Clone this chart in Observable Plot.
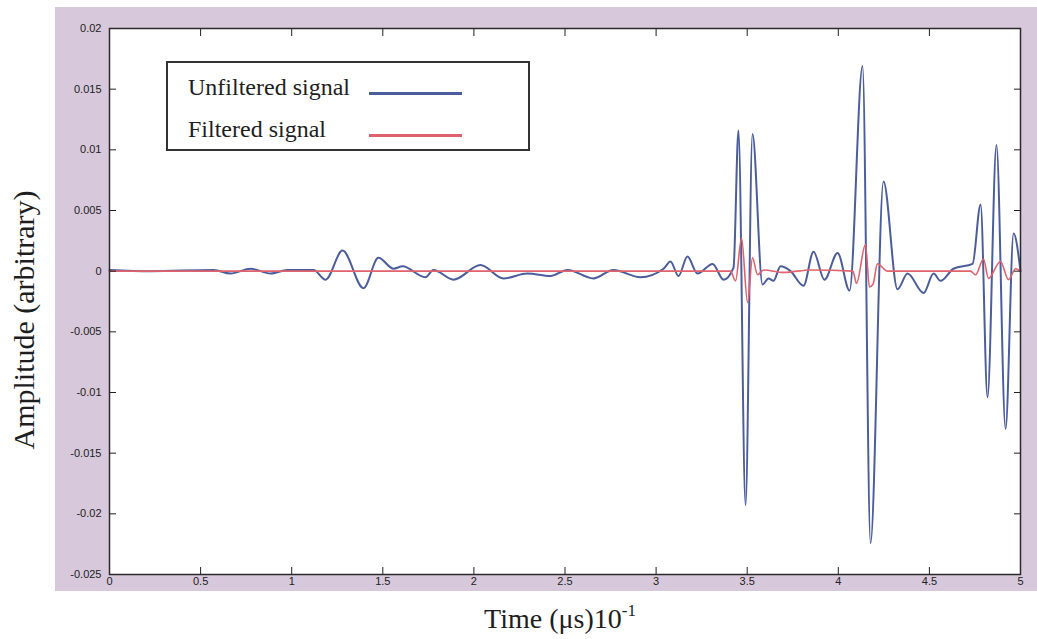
<!DOCTYPE html>
<html>
<head>
<meta charset="utf-8">
<script src="https://cdn.jsdelivr.net/npm/d3@7"></script>
<script src="https://cdn.jsdelivr.net/npm/@observablehq/plot@0.6"></script>
<style>
  body { margin: 0; background: #ffffff; }
  #wrap { position: relative; width: 1037px; height: 639px; overflow: hidden; }
  #bg { position: absolute; left: 55px; top: 7px; width: 982px; height: 584px; background: #d7c8db; }
  #chart { position: absolute; left: 0; top: 0; }
  .serif { font-family: "Liberation Serif", "Times New Roman", serif; color: #1e1e1e; white-space: nowrap; line-height: 1; }
  #ytitle { position: absolute; left: 24px; top: 320px; transform: translate(-50%, -50%) rotate(-90deg); font-size: 30px; }
  #xtitle { position: absolute; left: 560px; top: 604px; transform: translateX(-50%); font-size: 28px; }
  #xtitle sup { font-size: 17px; position: relative; top: -2px; }
  #legend { position: absolute; left: 166px; top: 61px; width: 360px; height: 86px; border: 2px solid #333; background: #fff; }
  .ltext { position: absolute; font-size: 24px; }
  .lline { position: absolute; height: 3px; }
</style>
</head>
<body>
<div id="wrap">
  <div id="bg"></div>
  <div id="chart"></div>
  <div id="ytitle" class="serif">Amplitude (arbitrary)</div>
  <div id="xtitle" class="serif">Time (μs)10<sup>-1</sup></div>
  <div id="legend"></div>
</div>
<script>
// Tick values and labels
const xTicks = [0, 0.5, 1, 1.5, 2, 2.5, 3, 3.5, 4, 4.5, 5];
const xTickLabels = ["0", "0.5", "1", "1.5", "2", "2.5", "3", "3.5", "4", "4.5", "5"];
const yTicks = [-0.025, -0.02, -0.015, -0.01, -0.005, 0, 0.005, 0.01, 0.015, 0.02];
const yTickLabels = ["-0.025", "-0.02", "-0.015", "-0.01", "-0.005", "0", "0.005", "0.01", "0.015", "0.02"];

// Series names
const seriesNames = ["Unfiltered signal", "Filtered signal"];
const seriesColors = ["#4c5d9c", "#e0626c"];

// Unfiltered signal (time in µs·10^-1, amplitude arbitrary)
const unfilteredT = [0.000, 0.225, 0.571, 0.664, 0.774, 0.884, 0.977, 1.120, 1.186, 1.279,
  1.394, 1.476, 1.559, 1.608, 1.734, 1.778, 1.888, 2.036, 2.162, 2.294,
  2.420, 2.514, 2.656, 2.766, 2.914, 3.041, 3.079, 3.123, 3.172, 3.227,
  3.310, 3.370, 3.425, 3.452, 3.491, 3.529, 3.584, 3.617, 3.644, 3.683,
  3.738, 3.809, 3.864, 3.924, 3.996, 4.062, 4.133, 4.177, 4.248, 4.325,
  4.380, 4.468, 4.523, 4.561, 4.632, 4.737, 4.781, 4.819, 4.868, 4.918,
  4.962, 5.000];
const unfilteredV = [0.0001, 0.0000, 0.0001, -0.0002, 0.0002, -0.0002, 0.0001, 0.0001, -0.0007, 0.0017,
  -0.0014, 0.0011, 0.0002, 0.0004, -0.0005, 0.0001, -0.0007, 0.0005, -0.0006, -0.0002,
  -0.0004, 0.0001, -0.0006, 0.0001, -0.0005, 0.0002, 0.0008, -0.0004, 0.0012, -0.0002,
  0.0006, -0.0007, 0.0003, 0.0116, -0.0193, 0.0113, -0.0011, -0.0006, -0.0008, 0.0004,
  0.0000, -0.0012, 0.0016, -0.0007, 0.0015, -0.0016, 0.0169, -0.0224, 0.0074, -0.0015,
  -0.0002, -0.0018, -0.0002, -0.0008, 0.0002, 0.0006, 0.0055, -0.0104, 0.0104, -0.0130,
  0.0031, 0.0000];

// Filtered signal
const filteredT = [0.000, 1.000, 2.000, 3.000, 3.408, 3.436, 3.469, 3.502, 3.529, 3.557,
  3.590, 3.700, 3.850, 4.080, 4.100, 4.149, 4.171, 4.190, 4.215, 4.270,
  4.726, 4.753, 4.797, 4.824, 4.890, 4.934, 4.973, 5.000];
const filteredV = [0.0000, 0.0000, 0.0000, 0.0000, 0.0000, -0.0008, 0.0027, -0.0026, 0.0011, -0.0003,
  0.0001, -0.0001, 0.0001, 0.0000, -0.0010, 0.0022, -0.0013, -0.0011, 0.0006, 0.0000,
  0.0000, -0.0003, 0.0010, -0.0006, 0.0008, -0.0007, 0.0002, 0.0000];

const unfiltered = unfilteredT.map((t, i) => ({t, v: unfilteredV[i]}));
const filtered = filteredT.map((t, i) => ({t, v: filteredV[i]}));

const xFmt = d => xTickLabels[xTicks.indexOf(d)];
const yFmt = d => yTickLabels[yTicks.indexOf(d)];

const chart = Plot.plot({
  width: 1037,
  height: 639,
  marginLeft: 109,
  marginRight: 17,
  marginTop: 28,
  marginBottom: 65,
  style: {background: "transparent", fontFamily: "Liberation Sans, Arial, sans-serif", fontSize: "11px", color: "#222"},
  x: {domain: [0, 5]},
  y: {domain: [-0.025, 0.02]},
  marks: [
    Plot.frame({fill: "white"}),
    Plot.line(unfiltered, {x: "t", y: "v", stroke: seriesColors[0], strokeWidth: 2, curve: "monotone-x"}),
    Plot.line(filtered, {x: "t", y: "v", stroke: seriesColors[1], strokeWidth: 1.6, curve: "monotone-x"}),
    Plot.axisX({anchor: "bottom", ticks: xTicks, tickFormat: xFmt, tickSize: -7, tickPadding: 10, label: null}),
    Plot.axisX({anchor: "top", ticks: xTicks, tickFormat: () => "", tickSize: -7, tickPadding: 0, label: null}),
    Plot.axisY({anchor: "left", ticks: yTicks, tickFormat: yFmt, tickSize: -7, tickPadding: 15, label: null}),
    Plot.axisY({anchor: "right", ticks: yTicks, tickFormat: () => "", tickSize: -7, tickPadding: 0, label: null}),
    Plot.frame({stroke: "#2a2a2a", strokeWidth: 1.5})
  ]
});
document.getElementById("chart").appendChild(chart);

// Legend
const legend = document.getElementById("legend");
const lTop = [12, 54];
seriesNames.forEach((name, i) => {
  const t = document.createElement("div");
  t.className = "ltext serif";
  t.style.left = "20px";
  t.style.top = lTop[i] + "px";
  t.textContent = name;
  legend.appendChild(t);
  const l = document.createElement("div");
  l.className = "lline";
  l.style.left = "201px";
  l.style.width = "93px";
  l.style.top = (lTop[i] + 17) + "px";
  l.style.background = seriesColors[i];
  legend.appendChild(l);
});
</script>
</body>
</html>
